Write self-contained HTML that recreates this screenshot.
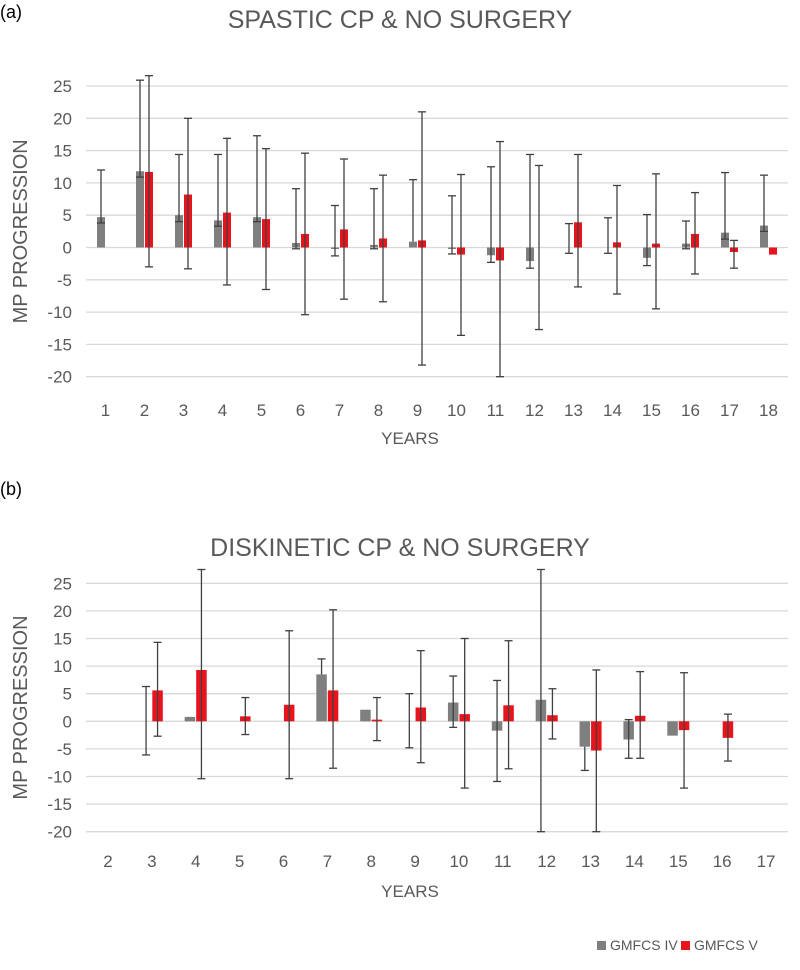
<!DOCTYPE html>
<html><head><meta charset="utf-8"><style>
body{margin:0;background:#fff;width:800px;height:965px;overflow:hidden;font-family:"Liberation Sans",sans-serif;}
svg text{font-family:"Liberation Sans",sans-serif;fill:#595959;}
</style></head><body>
<svg id="root" width="800" height="965">
<text x="0" y="18" font-size="18" fill="#000" style="fill:#000">(a)</text>
<text x="400" y="28" font-size="25" text-anchor="middle">SPASTIC CP &amp; NO SURGERY</text>
<text x="0" y="495" font-size="18" style="fill:#000">(b)</text>
<text x="400" y="556" font-size="25" text-anchor="middle">DISKINETIC CP &amp; NO SURGERY</text>
<g id="ga"></g>
<g id="gb"></g>
<g>
<rect x="597" y="941" width="9" height="9" fill="#7f7f7f"/>
<text x="610" y="950" font-size="14">GMFCS IV</text>
<rect x="681" y="941" width="9" height="9" fill="#e8141c"/>
<text x="694" y="950" font-size="14">GMFCS V</text>
</g>
</svg>
<script>
// Chart A data
const catsA=[1,2,3,4,5,6,7,8,9,10,11,12,13,14,15,16,17,18];
const grayMeanA=[4.7,11.8,5,4.2,4.7,0.7,-0.1,0.4,0.9,-0.1,-1.2,-2.1,0,0,-1.6,0.6,2.3,3.4];
const grayHiA=[12,25.9,14.4,14.4,17.3,9.1,6.5,9.1,10.5,8,12.5,14.4,3.7,4.6,5.1,4.1,11.6,11.2];
const grayLoA=[3.8,10.9,4,3.3,4,-0.2,-1.3,-0.2,null,-1,-2.3,-3.2,-0.9,-0.9,-2.8,-0.2,1.3,2.5];
const redMeanA=[null,11.7,8.2,5.4,4.4,2.1,2.8,1.4,1.1,-1.1,-2,0,3.9,0.8,0.6,2.1,-0.7,-1.1];
const redHiA=[null,26.6,20,16.9,15.3,14.6,13.7,11.2,21,11.3,16.4,12.7,14.4,9.6,11.4,8.5,1.1,null];
const redLoA=[null,-3,-3.3,-5.8,-6.5,-10.4,-8,-8.4,-18.2,-13.6,-20,-12.7,-6.1,-7.2,-9.5,-4.1,-3.2,null];
const ticksA=[25,20,15,10,5,0,-5,-10,-15,-20];
// Chart B data
const catsB=[2,3,4,5,6,7,8,9,10,11,12,13,14,15,16,17];
const grayMeanB=[null,0,0.8,null,null,8.5,2.1,0,3.4,-1.7,3.9,-4.6,-3.3,-2.6,null,null];
const grayHiB=[null,6.3,null,null,null,11.3,null,5,8.2,7.4,27.5,null,0.3,null,null,null];
const grayLoB=[null,-6.1,null,null,null,null,null,-4.8,-1.1,-10.9,-20,-8.9,-6.7,null,null,null];
const redMeanB=[null,5.6,9.3,0.9,3,5.6,0.3,2.5,1.3,2.9,1.1,-5.3,1,-1.6,-3,null];
const redHiB=[null,14.3,27.5,4.3,16.4,20.2,4.3,12.8,15,14.6,5.9,9.3,9,8.8,1.3,null];
const redLoB=[null,-2.7,-10.4,-2.4,-10.4,-8.5,-3.5,-7.5,-12.1,-8.6,-3.2,-20,-6.7,-12.1,-7.2,null];
const ticksB=[25,20,15,10,5,0,-5,-10,-15,-20];

const NS="http://www.w3.org/2000/svg";
function mk(g,tag,attrs){const e=document.createElementNS(NS,tag);for(const k in attrs)e.setAttribute(k,attrs[k]);g.appendChild(e);return e;}
function draw(gid,cats,gm,gh,gl,rm,rh,rl,ticks,zeroY,pxPer5,barW,xLabY,yearsY){
  const g=document.getElementById(gid);
  const L=86,R=788;
  const y=v=>zeroY-v*pxPer5/5;
  const bw=(R-L)/cats.length;
  const cx=i=>L+bw*(i+0.5);
  ticks.forEach(t=>{
    const ln=mk(g,'line',{x1:L,x2:R,y1:y(t),y2:y(t),stroke:'#d9d9d9','stroke-width':1.3});
    
    
    const tx=mk(g,'text',{x:72,y:y(t)+6,'font-size':17,'text-anchor':'end'});
    tx.textContent=t;
    
    
  });
  const yt=mk(g,'text',{x:0,y:0,'font-size':20,'text-anchor':'middle',transform:`translate(27,${y(2.5)}) rotate(-90)`});
  yt.textContent='MP PROGRESSION';
  
  
  cats.forEach((c,i)=>{
    const tx=mk(g,'text',{x:cx(i),y:xLabY,'font-size':17,'text-anchor':'middle'});
    tx.textContent=c;
    
    
  });
  const yr=mk(g,'text',{x:410,y:yearsY,'font-size':17,'text-anchor':'middle'});
  yr.textContent='YEARS';
  
  
  function series(m,h,l,color,off,name){
    m.forEach((v,i)=>{
      const bx=off<0?cx(i)-0.5-barW:cx(i)+0.5;
      const ec=bx+barW/2;
      if(v!==null&&v!==0){
        const r=mk(g,'rect',{x:bx,y:Math.min(y(v),y(0)),width:barW,height:Math.max(1.5,Math.abs(y(v)-y(0))),fill:color});
        
        
      }
      const base=v===null?0:v;
      const top=h[i]!==null?h[i]:base, bot=l[i]!==null?l[i]:base;
      if(h[i]!==null||l[i]!==null){
        const e=mk(g,'line',{x1:ec,x2:ec,y1:y(top),y2:y(bot),stroke:'#404040','stroke-width':1.3});
        
        
        [h[i],l[i]].forEach(val=>{if(val!==null){
          const cp=mk(g,'line',{x1:ec-4,x2:ec+4,y1:y(val),y2:y(val),stroke:'#404040','stroke-width':1.3});
          
          
        }});
      }
    });
  }
  series(gm,gh,gl,'#7f7f7f',-1,'gmfcs-iv');
  series(rm,rh,rl,'#e8141c',1,'gmfcs-v');
}
draw('ga',catsA,grayMeanA,grayHiA,grayLoA,redMeanA,redHiA,redLoA,ticksA,247.5,32.3,8,416,444);
draw('gb',catsB,grayMeanB,grayHiB,grayLoB,redMeanB,redHiB,redLoB,ticksB,721.3,27.6,10.5,867,897);
</script>
</body></html>
